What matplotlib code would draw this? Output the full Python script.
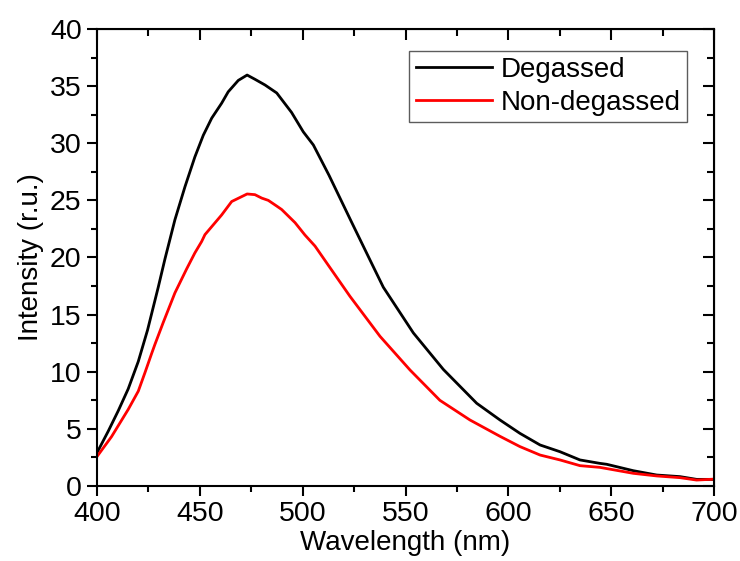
import matplotlib.pyplot as plt

plt.rcParams['font.family'] = ['Liberation Sans', 'DejaVu Sans']

# values
wl_deg = [400, 405.5, 410.4, 415.2, 420.1, 424.6, 429.8, 433.1, 437.9, 442.8,
          447.6, 451.7, 455.8, 460.6, 463.8, 468.7, 473.0, 476.8, 481.7, 487.4,
          494.6, 500.3, 505.2, 512.8, 523.5, 533.5, 539.2, 553.8, 568.4, 584.6,
          595.9, 605.6, 615.4, 625.1, 634.8, 644.5, 647.8, 660.7, 672.1, 683.4,
          691.5, 700]
int_deg = [2.9, 4.8, 6.6, 8.5, 10.9, 13.65, 17.4, 19.9, 23.3, 26.2,
           28.8, 30.7, 32.2, 33.5, 34.5, 35.5, 35.97, 35.6, 35.1, 34.4,
           32.7, 31.0, 29.85, 27.2, 23.2, 19.5, 17.4, 13.4, 10.2, 7.24,
           5.78, 4.61, 3.59, 3.0, 2.28, 1.98, 1.9, 1.34, 0.96, 0.82,
           0.58, 0.58]

wl_non = [400, 407.1, 415.2, 420.1, 423.3, 426.6, 428.2, 432.2, 437.9, 443.6,
          447.6, 450.9, 452.5, 460.6, 465.5, 473.0, 476.8, 480.1, 483.3, 487.4,
          489.8, 496.3, 501.1, 506, 512.4, 523, 537.6, 552.2, 566.7, 581.3,
          595.9, 605.6, 615.4, 625.1, 634.8, 644.5, 660.7, 672.1, 683.4, 691.5,
          700]
int_non = [2.57, 4.32, 6.7, 8.3, 9.9, 11.6, 12.4, 14.3, 16.9, 19.0,
           20.4, 21.4, 22.0, 23.72, 24.9, 25.56, 25.5, 25.2, 25.0, 24.5,
           24.2, 23.05, 21.97, 21.0, 19.34, 16.6, 13.1, 10.15, 7.5, 5.78,
           4.35, 3.45, 2.71, 2.28, 1.78, 1.63, 1.11, 0.88, 0.73, 0.52,
           0.6]

fig = plt.figure(figsize=(7.4, 5.61), dpi=100)
ax = fig.add_axes([0.131, 0.1337, 0.834, 0.8146])

ax.plot(wl_deg, int_deg, color='black', lw=2, label='Degassed', solid_joinstyle='round')
ax.plot(wl_non, int_non, color='red', lw=2, label='Non-degassed', solid_joinstyle='round')

ax.set_xlim(400, 700)
ax.set_ylim(0, 40)
ax.set_xticks(range(400, 701, 50))
ax.set_xticks(range(425, 700, 50), minor=True)
ax.set_yticks(range(0, 41, 5))
ax.set_yticks([2.5 + 5 * i for i in range(8)], minor=True)
ax.tick_params(which='major', direction='out', length=7, width=1.5, labelsize=20.5, pad=4)
ax.tick_params(which='minor', direction='out', length=4, width=1.5)
for s in ax.spines.values():
    s.set_linewidth(1.5)

# mirror ticks on top and right, pointing inward
top = ax.secondary_xaxis('top')
top.set_xticks(range(400, 701, 50))
top.set_xticks(range(425, 700, 50), minor=True)
top.tick_params(which='major', direction='in', length=8, width=1.5, labeltop=False)
top.tick_params(which='minor', direction='in', length=5, width=1.5)
right = ax.secondary_yaxis('right')
right.set_yticks(range(0, 41, 5))
right.set_yticks([2.5 + 5 * i for i in range(8)], minor=True)
right.tick_params(which='major', direction='in', length=8, width=1.5, labelright=False)
right.tick_params(which='minor', direction='in', length=5, width=1.5)

ax.set_xlabel('Wavelength (nm)', fontsize=20, labelpad=2)
ax.set_ylabel('Intensity (r.u.)', fontsize=20, labelpad=4)

leg = ax.legend(loc='upper right', bbox_to_anchor=(0.956, 0.952), fontsize=20,
                fancybox=False, frameon=True, handlelength=2.75, handletextpad=0.32,
                borderpad=0.22, labelspacing=0.25, borderaxespad=0)
leg.get_frame().set_edgecolor('#333333')
leg.get_frame().set_linewidth(1)

fig.savefig('out.png', dpi=100)
